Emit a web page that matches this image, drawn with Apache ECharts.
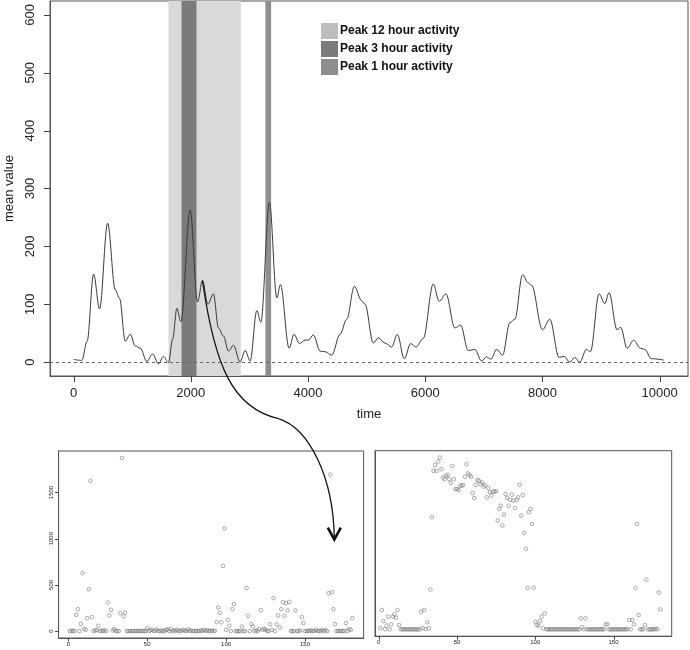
<!DOCTYPE html>
<html>
<head>
<meta charset="utf-8">
<script src="https://cdn.jsdelivr.net/npm/echarts@6.0.0/dist/echarts.min.js"></script>
<style>
  html, body { margin: 0; padding: 0; background: #fff; }
  #chart { width: 690px; height: 650px; }
</style>
</head>
<body>
<div id="chart"></div>
<script>
// top panel: smoothed mean value over time
const timeStamps = [0, 140, 230, 341, 443, 580, 711, 784, 881, 966, 1051, 1137, 1250, 1347, 1449, 1534, 1619, 1690, 1762, 1830,
  1989, 2114, 2199, 2290, 2386, 2472, 2557, 2642, 2727, 2841, 2927, 3012, 3126, 3194, 3341, 3467, 3528, 3677, 3762, 3853,
  3949, 4006, 4091, 4205, 4290, 4404, 4546, 4660, 4790, 4915, 4972, 5113, 5199, 5313, 5427, 5523, 5642, 5751, 5841, 5966,
  6136, 6238, 6352, 6506, 6603, 6733, 6847, 6961, 7046, 7120, 7216, 7319, 7443, 7528, 7660, 7756, 7813, 8000, 8125, 8284,
  8369, 8466, 8551, 8636, 8750, 8818, 8966, 9063, 9136, 9272, 9335, 9443, 9557, 9671, 9745, 9858, 10070];
const meanValues = [4.6, 3, 36, 152, 92, 240, 125, 110, 36, 48, 28, 24, 1, 14, -3, 10, -1, 40, 93, 70,
  263, 104, 141, 100, 118, 59, 45, 19, 29, 0, 20, 2, 89, 69, 276, 111, 134, 24, 48, 32,
  38, 38, 47, 19, 18, 12, 48, 74, 131, 106, 100, 33, 42, 33, 26, 48, 6, 32, 26, 41,
  135, 105, 118, 59, 64, 20, 22, 2, 9, 5, 22, 12, 68, 74, 151, 137, 133, 56, 74, 8,
  10, 0, 8, 0, 22, 18, 118, 101, 120, 56, 60, 24, 38, 24, 22, 6, 3.5];

const band12h = [1619, 2853];
const band3h = [1841, 2096];
const band1h = [3273, 3370];

const topXTicks = [0, 2000, 4000, 6000, 8000, 10000];
const topYTicks = [0, 100, 200, 300, 400, 500, 600];

// bottom panels: raw values per index (1..180)
const leftCounts = [0, 3, 3, 0, 176, 237, 0, 79, 626, 22, 14, 140, 453, 1626, 151, 0, 7, 10, 58, 0,
  3, 3, 7, 0, 309, 169, 230, 7, 22, 3, 0, 0, 194, 1874, 158, 201, 0, 0, 0, 0,
  0, 0, 0, 0, 0, 0, 0, 0, 0, 32, 0, 7, 14, 0, 3, 18, 0, 0, 7, 0,
  0, 14, 18, 0, 22, 0, 7, 0, 14, 0, 0, 7, 11, 0, 3, 18, 0, 7, 0, 0,
  3, 0, 0, 7, 0, 14, 0, 11, 0, 0, 7, 0, 3, 97, 255, 198, 94, 705, 1111, 14,
  122, 58, 0, 237, 291, 0, 0, 0, 0, 50, 0, 0, 468, 165, 0, 75, 50, 0, 7, 0,
  22, 227, 14, 25, 14, 0, 0, 75, 14, 356, 0, 75, 169, 40, 237, 313, 165, 302, 223, 316,
  0, 0, 0, 223, 0, 0, 7, 151, 86, 0, 0, 3, 0, 7, 0, 0, 14, 0, 3, 0,
  14, 0, 7, 0, 410, 1695, 421, 237, 75, 0, 0, 0, 0, 0, 0, 86, 0, 21, 14, 140];
const rightCounts = [11, 209, 90, 0, 40, 137, 0, 54, 137, 162, 126, 209, 47, 0, 0, 0, 0, 0, 0, 0,
  0, 0, 0, 0, 0, 0, 191, 11, 209, 4, 76, 11, 432, 1216, 1719, 1781, 1719, 1820, 1863, 1737,
  1647, 1629, 1665, 1676, 1629, 1586, 1773, 1629, 1522, 1522, 1511, 1558, 1558, 1565, 1655, 1791, 1691, 1673, 1655, 1478,
  1424, 1565, 1619, 1612, 1576, 1594, 1547, 1565, 1432, 1532, 1486, 1450, 1493, 1493, 1500, 1180, 1306, 1342, 1126, 1245,
  1468, 1424, 1342, 1406, 1460, 1396, 1317, 1403, 1432, 1568, 1234, 1457, 1047, 874, 450, 1270, 1306, 1144, 453, 83,
  47, 40, 90, 137, 11, 173, 0, 0, 0, 0, 0, 0, 0, 0, 0, 0, 0, 0, 0, 0,
  0, 0, 0, 0, 0, 0, 0, 0, 119, 22, 0, 119, 0, 0, 0, 0, 0, 0, 0, 0,
  0, 0, 0, 0, 54, 54, 0, 0, 0, 0, 0, 0, 0, 0, 0, 0, 0, 0, 0, 101,
  0, 101, 54, 450, 1144, 155, 0, 0, 0, 47, 540, 0, 0, 0, 0, 0, 7, 0, 399, 216];

const scatterXTicks = [0, 50, 100, 150];
const scatterYTicks = [0, 500, 1000, 1500];

// axis extents (R style, 4% padding)
const topX = [-403, 10483], topY = [-24, 624];
const leftX = [-6.16, 187.16], leftY = [-75, 1949];
const rightX = [-2.4, 187.16], rightY = [-74.5, 1937.5];

const FONT = 'Liberation Sans, Arial, sans-serif';
const AX = '#444';
const plain = (v) => String(v);

function xAxisR(grid, ext, ticks, size, extra) {
  const big = size > 10;
  return Object.assign({
    type: 'value', gridIndex: grid, min: ext[0], max: ext[1], position: 'bottom',
    axisLine: { show: true, onZero: false, lineStyle: { color: '#555', width: 1 } },
    splitLine: { show: false },
    axisTick: { show: false },
    axisLabel: { customValues: ticks, formatter: plain, fontFamily: FONT, fontSize: size, color: '#222', margin: big ? 11 : 3 }
  }, extra || {});
}
function yAxisR(grid, ext, ticks, size, showLabels, extra) {
  const big = size > 10;
  return Object.assign({
    type: 'value', gridIndex: grid, min: ext[0], max: ext[1], position: 'left',
    axisLine: { show: true, onZero: false, lineStyle: { color: '#555', width: 1 } },
    splitLine: { show: false },
    axisTick: { show: false },
    axisLabel: { show: showLabels, customValues: ticks, formatter: plain, rotate: 90, fontFamily: FONT, fontSize: size, color: '#222', margin: big ? 13 : 4 }
  }, extra || {});
}

const gridBox = { show: true, borderColor: '#555', borderWidth: 1, backgroundColor: 'transparent', outerBoundsMode: 'none', containLabel: false };

const chart = echarts.init(document.getElementById('chart'), null, { renderer: 'canvas' });

const option = {
  animation: false,
  backgroundColor: '#fff',
  grid: [
    Object.assign({ left: 50, top: 1, width: 638, height: 375 }, gridBox),
    Object.assign({ left: 58.6, top: 451, width: 305, height: 187 }, gridBox),
    Object.assign({ left: 375, top: 450.7, width: 296.7, height: 185.5 }, gridBox)
  ],
  xAxis: [
    xAxisR(0, topX, topXTicks, 13, { name: 'time', nameLocation: 'middle', nameGap: 32, nameTextStyle: { fontFamily: FONT, fontSize: 13, color: '#222' } }),
    xAxisR(1, leftX, scatterXTicks, 6),
    xAxisR(2, rightX, scatterXTicks, 6)
  ],
  yAxis: [
    yAxisR(0, topY, topYTicks, 13, true, { name: 'mean value', nameLocation: 'middle', nameGap: 29, nameRotate: 90, nameTextStyle: { fontFamily: FONT, fontSize: 13, color: '#222' } }),
    yAxisR(1, leftY, scatterYTicks, 6, true),
    yAxisR(2, rightY, scatterYTicks, 6, false)
  ],
  legend: {
    orient: 'vertical', left: 321, top: 23, padding: 0,
    itemWidth: 17, itemHeight: 16, itemGap: 2, icon: 'rect',
    selectedMode: false,
    textStyle: { fontFamily: FONT, fontSize: 12, fontWeight: 'bold', color: '#111', padding: [0, 0, 0, -3] },
    data: ['Peak 12 hour activity', 'Peak 3 hour activity', 'Peak 1 hour activity']
  },
  series: [
    {
      name: 'Peak 12 hour activity', type: 'line', xAxisIndex: 0, yAxisIndex: 0, data: [],
      itemStyle: { color: '#bdbdbd' }, z: 1,
      markArea: { silent: true, itemStyle: { color: '#d9d9d9' }, data: [[{ xAxis: band12h[0] }, { xAxis: band12h[1] }]] }
    },
    {
      name: 'Peak 3 hour activity', type: 'line', xAxisIndex: 0, yAxisIndex: 0, data: [],
      itemStyle: { color: '#7b7b7b' }, z: 2,
      markArea: { silent: true, itemStyle: { color: '#7b7b7b' }, data: [[{ xAxis: band3h[0] }, { xAxis: band3h[1] }]] }
    },
    {
      name: 'Peak 1 hour activity', type: 'line', xAxisIndex: 0, yAxisIndex: 0, data: [],
      itemStyle: { color: '#8e8e8e' }, z: 2,
      markArea: { silent: true, itemStyle: { color: '#8e8e8e' }, data: [[{ xAxis: band1h[0] }, { xAxis: band1h[1] }]] }
    },
    {
      name: 'mean', type: 'line', xAxisIndex: 0, yAxisIndex: 0, z: 5,
      data: timeStamps.map((t, i) => [t, meanValues[i]]),
      smooth: 0.35, smoothMonotone: 'x', showSymbol: false, silent: true,
      lineStyle: { color: '#3a3a3a', width: 1 },
      markLine: {
        silent: true, symbol: 'none', label: { show: false },
        lineStyle: { color: '#666', type: [3, 3], width: 1 },
        data: [{ yAxis: 0 }]
      }
    },
    {
      name: 'left', type: 'scatter', xAxisIndex: 1, yAxisIndex: 1, silent: true,
      data: leftCounts.map((v, i) => [i + 1, v]),
      symbol: 'circle', symbolSize: 3.6,
      itemStyle: { color: 'rgba(0,0,0,0)', borderColor: '#6a6a6a', borderWidth: 0.7 }
    },
    {
      name: 'right', type: 'scatter', xAxisIndex: 2, yAxisIndex: 2, silent: true,
      data: rightCounts.map((v, i) => [i + 1, v]),
      symbol: 'circle', symbolSize: 3.6,
      itemStyle: { color: 'rgba(0,0,0,0)', borderColor: '#6a6a6a', borderWidth: 0.7 }
    }
  ]
};

chart.setOption(option);

// tick marks, placed through each grid's own scale
const graphics = [];
function addTicks(gridIndex, xExt, yExt, xTicks, yTicks, len) {
  xTicks.forEach((v) => {
    const p = chart.convertToPixel({ gridIndex: gridIndex }, [v, yExt[0]]);
    const x = Math.round(p[0]) + 0.5;
    graphics.push({ type: 'line', z: 50, silent: true, shape: { x1: x, y1: p[1], x2: x, y2: p[1] + len }, style: { stroke: AX, lineWidth: 1 } });
  });
  yTicks.forEach((v) => {
    const p = chart.convertToPixel({ gridIndex: gridIndex }, [xExt[0], v]);
    const y = Math.round(p[1]) + 0.5;
    graphics.push({ type: 'line', z: 50, silent: true, shape: { x1: p[0] - len, y1: y, x2: p[0], y2: y }, style: { stroke: AX, lineWidth: 1 } });
  });
}
addTicks(0, topX, topY, topXTicks, topYTicks, 6);
addTicks(1, leftX, leftY, scatterXTicks, scatterYTicks, 3.5);
addTicks(2, rightX, rightY, scatterXTicks, [], 3.5);

// curved arrow from the peak at ~2200 down to the left scatter panel
const p0 = chart.convertToPixel({ gridIndex: 0 }, [2199, 141]);
const p1 = chart.convertToPixel({ gridIndex: 1 }, [168.6, 990]);
const jx = p0[0] + 76, jy = p0[1] + 138;
const arrowStyle = { fill: null, stroke: '#111', lineWidth: 1.3 };

graphics.push(
  {
    type: 'bezierCurve', z: 100, silent: true,
    shape: { x1: p0[0], y1: p0[1], cpx1: p0[0] + 12, cpy1: p0[1] + 85, cpx2: p0[0] + 30, cpy2: p0[1] + 128, x2: jx, y2: jy },
    style: arrowStyle
  },
  {
    type: 'bezierCurve', z: 100, silent: true,
    shape: { x1: jx, y1: jy, cpx1: jx + 32, cpy1: jy + 10, cpx2: p1[0] - 1, cpy2: p1[1] - 60, x2: p1[0], y2: p1[1] - 2 },
    style: arrowStyle
  },
  {
    type: 'polyline', z: 100, silent: true,
    shape: { points: [[p1[0] - 6.5, p1[1] - 12], [p1[0], p1[1]], [p1[0] + 6.5, p1[1] - 12]] },
    style: { fill: null, stroke: '#111', lineWidth: 2.6, lineJoin: 'miter' }
  }
);

chart.setOption({ graphic: graphics });
</script>
</body>
</html>
